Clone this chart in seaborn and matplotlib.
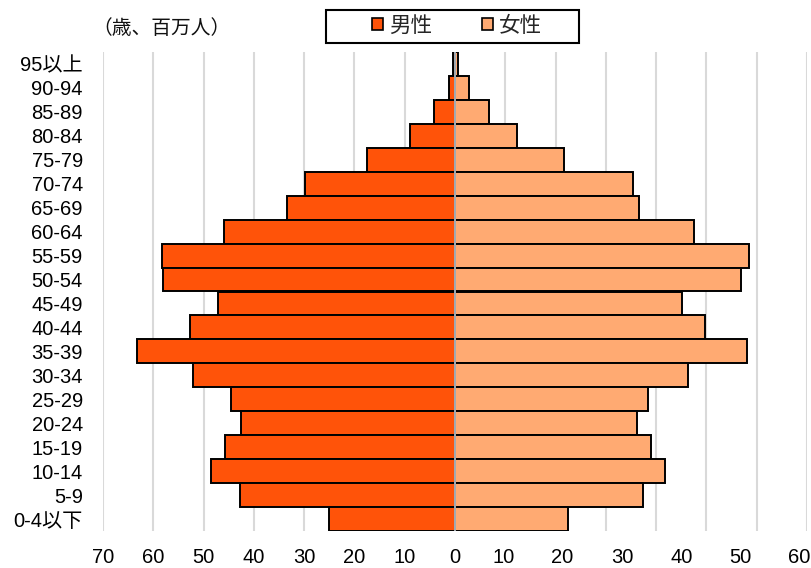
import matplotlib
matplotlib.use("Agg")
import matplotlib.pyplot as plt
from matplotlib.patches import Patch, Rectangle
import seaborn as sns
import pandas as pd
import numpy as np

# Age groups, from oldest (top) to youngest (bottom)
ages = ["95以上", "90-94", "85-89", "80-84", "75-79", "70-74", "65-69", "60-64",
        "55-59", "50-54", "45-49", "40-44", "35-39", "30-34", "25-29", "20-24",
        "15-19", "10-14", "5-9", "0-4以下"]

# Population in millions
male = [0.3, 1.2, 4.2, 9.0, 17.5, 29.9, 33.5, 46.0,
        58.2, 58.1, 47.2, 52.7, 63.3, 52.2, 44.5, 42.6,
        45.7, 48.5, 42.8, 25.0]
female = [0.6, 2.7, 6.8, 12.4, 21.6, 35.3, 36.6, 47.6,
          58.4, 56.9, 45.2, 49.7, 58.1, 46.4, 38.3, 36.1,
          38.9, 41.7, 37.4, 22.4]

# Axis ticks: gridlines every 10 on both sides
grid_ticks = list(range(-70, 71, 10))
left_tick_pos = [-70, -60, -50, -40, -30, -20, -10, 0]
left_tick_labels = ["70", "60", "50", "40", "30", "20", "10", "0"]
right_tick_pos = [9.6, 21.3, 33.2, 45.0, 56.7, 68.5]
right_tick_labels = ["10", "20", "30", "40", "50", "60"]

male_color = "#FF5309"
female_color = "#FFAA72"

sns.set_theme(style="white")
plt.rcParams["font.family"] = ["Liberation Sans", "Noto Sans CJK JP"]

df = pd.DataFrame({"age": ages, "male": -np.array(male), "female": female})

fig = plt.figure(figsize=(8.12, 5.68), dpi=100)
ax = fig.add_axes([103 / 812, 1 - 531 / 568, 704 / 812, 479 / 568])

sns.barplot(data=df, x="male", y="age", order=ages, color=male_color,
            width=1.0, edgecolor="black", linewidth=1.4, saturation=1,
            orient="h", ax=ax, zorder=2)
sns.barplot(data=df, x="female", y="age", order=ages, color=female_color,
            width=1.0, edgecolor="black", linewidth=1.4, saturation=1,
            orient="h", ax=ax, zorder=2)

ax.set_xlim(-70, 70)
ax.set_ylim(len(ages) - 0.5, -0.5)

ax.xaxis.remove_overlapping_locs = False
ax.set_xticks(grid_ticks)
ax.set_xticklabels([])
ax.set_xticks(left_tick_pos + right_tick_pos,
              left_tick_labels + right_tick_labels, minor=True)
ax.tick_params(axis="x", which="both", length=0, pad=12, labelsize=14.5,
               labelcolor="black")
ax.tick_params(axis="y", length=0, pad=14.5, labelsize=14.5, labelcolor="black")
ax.grid(axis="x", which="major", color="#D9D9D9", linewidth=1.5, zorder=0)
ax.grid(axis="x", which="minor", visible=False)
ax.set_axisbelow(True)
ax.set_xlabel("")
ax.set_ylabel("")
for s in ax.spines.values():
    s.set_visible(False)

# centre axis line drawn over the bars
ax.axvline(0, color="#C3CBD3", linewidth=1.2, zorder=5)

fig.text(161 / 812, 1 - 29 / 568, "（歳、百万人）", ha="center", va="center",
         fontsize=14.2, color="#111111",
         family=["Noto Sans CJK JP", "Liberation Sans"])

# legend box
fig.add_artist(Rectangle((326 / 812, 1 - 42.5 / 568), 253 / 812, 32.5 / 568,
                         transform=fig.transFigure, facecolor="white",
                         edgecolor="black", linewidth=1.5, zorder=3))
handles = [Patch(facecolor=male_color, edgecolor="black", linewidth=1.2, label="男性"),
           Patch(facecolor=female_color, edgecolor="black", linewidth=1.2, label="女性")]
leg = fig.legend(handles=handles, loc="center", bbox_to_anchor=(457 / 812, 1 - 26 / 568),
                 ncol=2, frameon=False, handlelength=0.5, handleheight=0.5,
                 handletextpad=0.3, columnspacing=2.3, borderpad=0.2,
                 prop={"family": ["Noto Sans CJK JP"], "size": 15.5})
leg.set_zorder(4)

fig.savefig("out.png", dpi=100)
